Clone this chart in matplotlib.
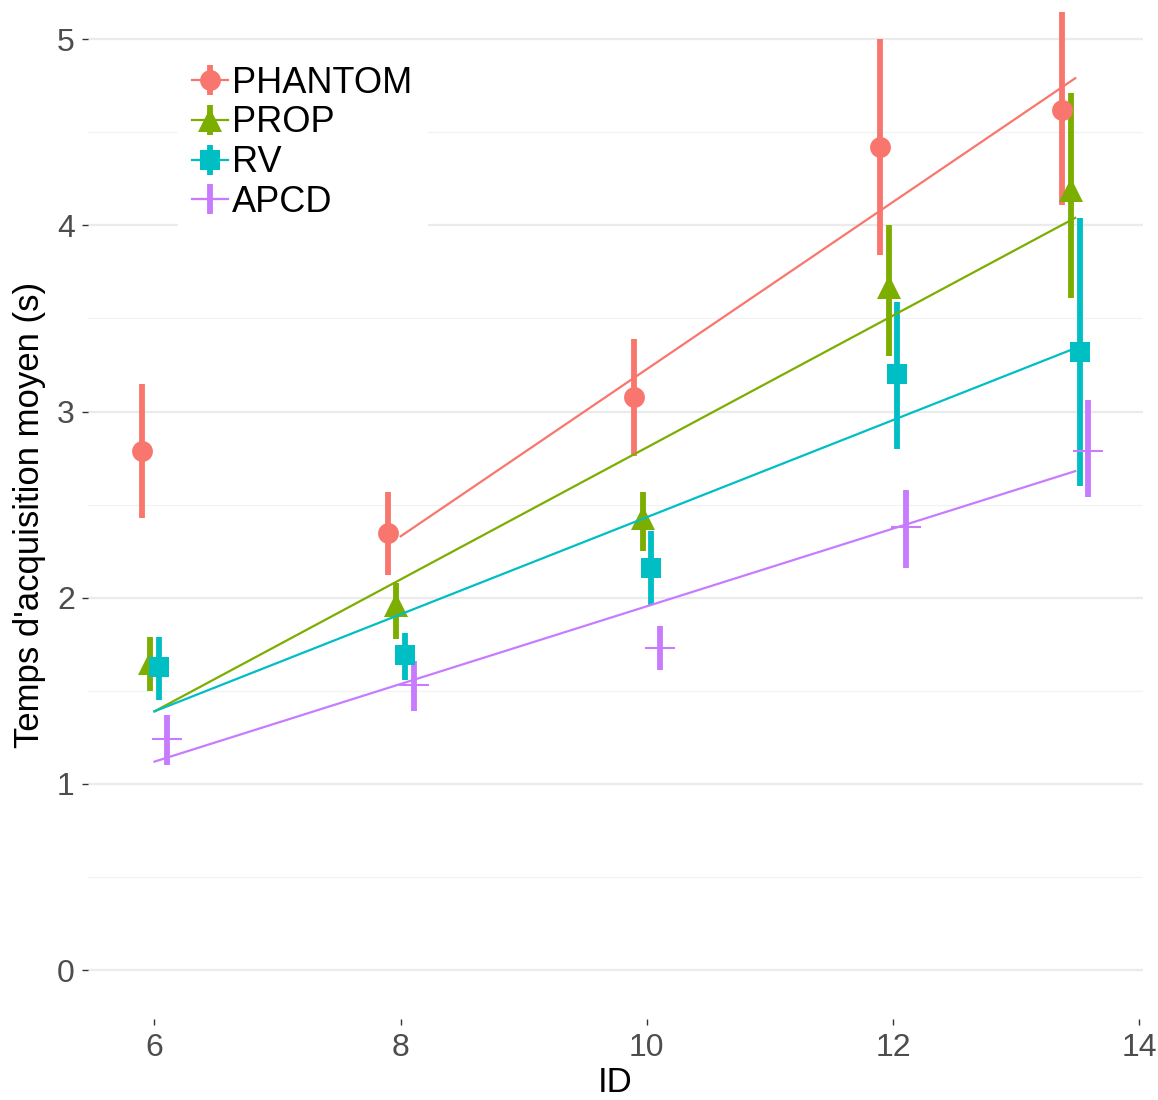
import matplotlib
matplotlib.use("Agg")
import matplotlib.pyplot as plt
from matplotlib.lines import Line2D
from matplotlib.legend_handler import HandlerTuple

plt.rcParams['font.family'] = ['Liberation Sans', 'DejaVu Sans']

# ID levels (x) and per-technique means / error bar bounds
ids = [6, 8, 10, 12, 13.48]
techniques = ['PHANTOM', 'PROP', 'RV', 'APCD']

phantom_mean = [2.79, 2.35, 3.08, 4.42, 4.62]
phantom_low = [2.43, 2.12, 2.76, 3.84, 4.11]
phantom_high = [3.15, 2.57, 3.39, 5.00, 5.30]

prop_mean = [1.65, 1.96, 2.43, 3.67, 4.19]
prop_low = [1.50, 1.78, 2.25, 3.30, 3.61]
prop_high = [1.79, 2.08, 2.57, 4.00, 4.71]

rv_mean = [1.63, 1.69, 2.16, 3.20, 3.32]
rv_low = [1.45, 1.56, 1.96, 2.80, 2.60]
rv_high = [1.79, 1.81, 2.36, 3.59, 4.04]

apcd_mean = [1.24, 1.53, 1.73, 2.38, 2.79]
apcd_low = [1.10, 1.39, 1.61, 2.16, 2.54]
apcd_high = [1.37, 1.66, 1.85, 2.58, 3.06]

# fitted lines (end points)
phantom_fit_x = [8, 13.48]
phantom_fit_y = [2.33, 4.79]
prop_fit_x = [6, 13.48]
prop_fit_y = [1.39, 4.04]
rv_fit_x = [6, 13.48]
rv_fit_y = [1.39, 3.34]
apcd_fit_x = [6, 13.48]
apcd_fit_y = [1.12, 2.68]

series = [
    (phantom_mean, phantom_low, phantom_high, phantom_fit_x, phantom_fit_y),
    (prop_mean, prop_low, prop_high, prop_fit_x, prop_fit_y),
    (rv_mean, rv_low, rv_high, rv_fit_x, rv_fit_y),
    (apcd_mean, apcd_low, apcd_high, apcd_fit_x, apcd_fit_y),
]

colors = ['#F8766D', '#7CAE00', '#00BFC4', '#C77CFF']
markers = ['o', '^', 's', '+']
msizes = [15, 17, 15, 22]
dodge = [-0.105, -0.035, 0.035, 0.105]

fig = plt.figure(figsize=(11.58, 11.0), dpi=100)
ax = fig.add_axes([0.076, 0.074, 0.911, 0.915])

handles = []
for i, (mean, low, high, fx, fy) in enumerate(series):
    xs = [x + dodge[i] for x in ids]
    ax.vlines(xs, low, high, color=colors[i], lw=4.2, zorder=3)
    mew = 1.5 if markers[i] == '+' else 0
    ax.plot(xs, mean, ls='none', marker=markers[i], ms=msizes[i],
            color=colors[i], mew=mew, zorder=4)
    ax.plot(fx, fy, color=colors[i], lw=1.6, zorder=5)
    h_line = Line2D([], [], color=colors[i], lw=1.6)
    h_bar = Line2D([], [], ls='none', marker='|', ms=22, mew=4.2, color=colors[i])
    h_pt = Line2D([], [], ls='none', marker=markers[i], ms=msizes[i],
                  color=colors[i], mew=mew)
    handles.append((h_line, h_bar, h_pt))

ax.set_xlim(5.46, 14.03)
ax.set_ylim(-0.26, 5.145)
ax.set_xticks([6, 8, 10, 12, 14])
ax.set_yticks([0, 1, 2, 3, 4, 5])
ax.set_yticks([0.5, 1.5, 2.5, 3.5, 4.5], minor=True)

ax.grid(axis='y', which='major', color='#EBEBEB', lw=1.6)
ax.grid(axis='y', which='minor', color='#F2F2F2', lw=0.9)
ax.grid(axis='x', visible=False)
ax.set_axisbelow(True)
for s in ax.spines.values():
    s.set_visible(False)

ax.tick_params(axis='both', which='major', labelsize=23, labelcolor='#4D4D4D',
               color='#333333', length=4.5, width=1)
ax.tick_params(axis='x', which='major', pad=6)
ax.tick_params(axis='y', which='major', pad=5)
ax.tick_params(axis='y', which='minor', length=0)

ax.set_xlabel('ID', fontsize=25, labelpad=2)
ax.set_ylabel("Temps d'acquisition moyen (s)", fontsize=25, labelpad=8)

leg = ax.legend(handles, techniques, handler_map={tuple: HandlerTuple(ndivide=1)},
                loc='upper left', bbox_to_anchor=(0.085, 0.961), fontsize=26,
                frameon=True, fancybox=False, framealpha=1, facecolor='white',
                edgecolor='white', handlelength=1.0, handletextpad=0.1,
                labelspacing=0.13, borderpad=0.4, borderaxespad=0)

fig.savefig('out.png', dpi=100)
